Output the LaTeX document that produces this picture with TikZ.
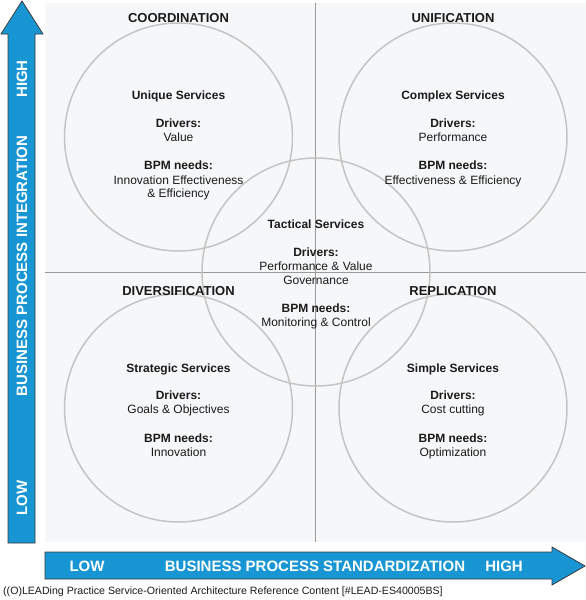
\documentclass[tikz,border=0pt]{standalone}
\usepackage{fontspec}
\setmainfont{Liberation Sans}
\definecolor{panel}{HTML}{F6F7F9}
\definecolor{ring}{HTML}{C4C4C4}
\definecolor{divider}{HTML}{9A9A9A}
\definecolor{arrowblue}{HTML}{1896D4}
\definecolor{arrowline}{HTML}{3A3A3A}
\definecolor{txt}{HTML}{1A1A1A}
\tikzset{
  ringc/.style={circle,draw=ring,line width=1.5pt,minimum size=228pt,inner sep=0pt},
  quad/.style={font=\fontsize{13}{15}\selectfont\bfseries,text=txt,anchor=base,inner sep=0pt},
  hd/.style={font=\fontsize{12}{14}\selectfont\bfseries,text=txt,anchor=base,inner sep=0pt},
  bd/.style={font=\fontsize{12}{14}\selectfont,text=txt,anchor=base,inner sep=0pt},
  axislabel/.style={font=\fontsize{15}{17}\selectfont\bfseries,text=white,inner sep=0pt},
  bigarrow/.style={fill=arrowblue,draw=arrowline,line width=0.8pt,line join=miter},
  divline/.style={draw=divider,line width=1pt}
}
\begin{document}
\begin{tikzpicture}[x=1pt,y=-1pt]
\useasboundingbox (0,0) rectangle (586,600);
% panel
\fill[panel] (45,3) rectangle (586,542);
\draw[divline] (315,3) -- (315,542);
\draw[divline] (45,272) -- (586,272);
% circles
\node[ringc] (c1) at (178.5,137) {};
\node[ringc] (c2) at (453,137) {};
\node[ringc] (c3) at (178.5,408) {};
\node[ringc] (c4) at (453,408) {};
\node[ringc] (c5) at (316,272) {};
% top-left
\node[quad] (q1) at (178.5,22) {COORDINATION};
\node[hd] (t1a) at (178.5,99.5) {Unique Services};
\node[hd] (t1b) at (178.5,127) {Drivers:};
\node[bd] (t1c) at (178.5,141) {Value};
\node[hd] (t1d) at (178.5,169.5) {BPM needs:};
\node[bd] (t1e) at (178.5,184) {Innovation Effectiveness};
\node[bd] (t1f) at (178.5,197.5) {\& Efficiency};
% top-right
\node[quad] (q2) at (453,22) {UNIFICATION};
\node[hd] (t2a) at (453,99.5) {Complex Services};
\node[hd] (t2b) at (453,127) {Drivers:};
\node[bd] (t2c) at (453,141) {Performance};
\node[hd] (t2d) at (453,169.5) {BPM needs:};
\node[bd] (t2e) at (453,184) {Effectiveness \& Efficiency};
% centre
\node[hd] (t5a) at (316,228) {Tactical Services};
\node[hd] (t5b) at (316,256) {Drivers:};
\node[bd] (t5c) at (316,270) {Performance \& Value};
\node[bd] (t5d) at (316,284) {Governance};
\node[hd] (t5e) at (316,312.5) {BPM needs:};
\node[bd] (t5f) at (316,326.5) {Monitoring \& Control};
% bottom-left
\node[quad] (q3) at (178.5,295) {DIVERSIFICATION};
\node[hd] (t3a) at (178.5,372) {Strategic Services};
\node[hd] (t3b) at (178.5,399.5) {Drivers:};
\node[bd] (t3c) at (178.5,413.5) {Goals \& Objectives};
\node[hd] (t3d) at (178.5,442) {BPM needs:};
\node[bd] (t3e) at (178.5,456) {Innovation};
% bottom-right
\node[quad] (q4) at (453,295) {REPLICATION};
\node[hd] (t4a) at (453,372) {Simple Services};
\node[hd] (t4b) at (453,399.5) {Drivers:};
\node[bd] (t4c) at (453,413.5) {Cost cutting};
\node[hd] (t4d) at (453,442) {BPM needs:};
\node[bd] (t4e) at (453,456) {Optimization};
% vertical arrow
\draw[bigarrow] (8,543) -- (8,34) -- (1,34) -- (22,1) -- (43,34) -- (35,34) -- (35,543) -- cycle;
\node[axislabel,rotate=90] (vlow) at (22,498) {LOW};
\node[axislabel,rotate=90] (vmid) at (22,266) {BUSINESS PROCESS INTEGRATION};
\node[axislabel,rotate=90] (vhigh) at (22,79) {HIGH};
% horizontal arrow
\draw[bigarrow] (45,552) -- (552,552) -- (552,547) -- (585,566) -- (552,585) -- (552,579) -- (45,579) -- cycle;
\node[axislabel] (hlow) at (87,566) {LOW};
\node[axislabel] (hmid) at (315,566) {BUSINESS PROCESS STANDARDIZATION};
\node[axislabel] (hhigh) at (504,566) {HIGH};
% footer
\node[font=\fontsize{10.6}{12}\selectfont,text=txt,anchor=base west,inner sep=0pt] (foot) at (3,594.5) {((O)LEADing Practice Service-Oriented Architecture Reference Content [\#LEAD-ES40005BS]};
\end{tikzpicture}
\end{document}
